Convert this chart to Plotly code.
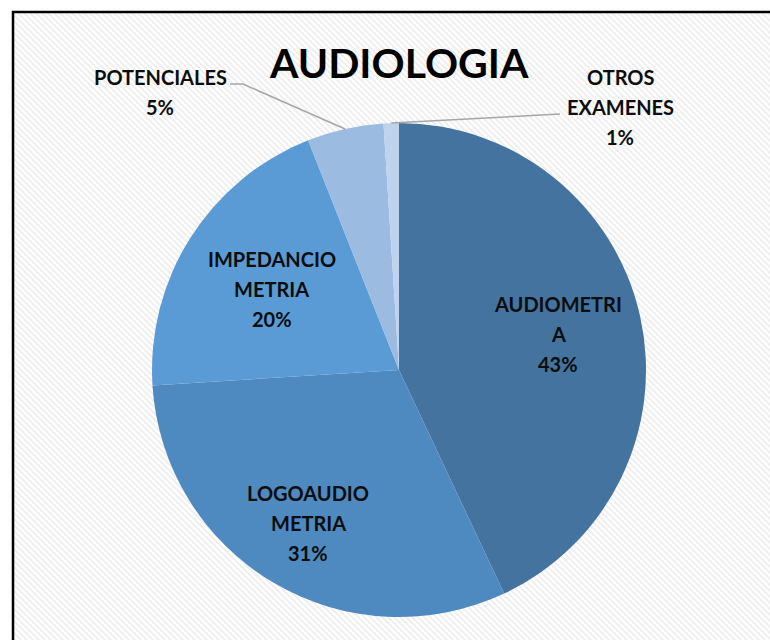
import math
import base64
import plotly.graph_objects as go

# datos del grafico
examenes = ['AUDIOMETRIA', 'LOGOAUDIOMETRIA', 'IMPEDANCIOMETRIA', 'POTENCIALES', 'OTROS EXAMENES']
porcentajes = [43, 31, 20, 5, 1]
etiquetas = [['AUDIOMETRI', 'A'], ['LOGOAUDIO', 'METRIA'], ['IMPEDANCIO', 'METRIA'],
             ['POTENCIALES'], ['OTROS', 'EXAMENES']]
colores = ['#44739f', '#4e89bf', '#5b9bd5', '#9bbbe0', '#bfd3ed']

W, H = 770, 640
cx, cy, R = 399, 370, 247
fuente = 'Lato'


def px(x):
    return x / W


def py(y):
    return 1 - y / H


# fondo rayado
rayas = ''.join(
    '<line x1="%d" y1="-10" x2="%d" y2="%d" stroke="#efefef" stroke-width="2"/>' % (i, i + 800, 790)
    for i in range(-900, 800, 6))
svg = '<svg xmlns="http://www.w3.org/2000/svg" width="760" height="630">' \
      '<rect width="760" height="630" fill="#ffffff"/>' + rayas + '</svg>'
fondo = 'data:image/svg+xml;base64,' + base64.b64encode(svg.encode()).decode()

fig = go.Figure(go.Pie(
    labels=examenes,
    values=porcentajes,
    sort=False,
    direction='clockwise',
    rotation=0,
    marker=dict(colors=colores, line=dict(width=0)),
    textinfo='none',
    hoverinfo='label+percent',
    showlegend=False,
    domain=dict(x=[px(cx - R), px(cx + R)], y=[py(cy + R), py(cy - R)]),
))

total = sum(porcentajes)
angulos = []
acum = 0
for v in porcentajes:
    angulos.append((acum + v / 2) / total * 2 * math.pi)
    acum += v


def punto(ang, k):
    return cx + R * k * math.sin(ang), cy - R * k * math.cos(ang)


anots = []
shapes = []


def texto(x, y, lineas, size=20):
    n = len(lineas)
    for i, t in enumerate(lineas):
        anots.append(dict(x=px(x), y=py(y + (i - (n - 1) / 2) * 30), xref='paper', yref='paper',
                          xanchor='center', yanchor='middle',
                          text='<b>%s</b>' % t, showarrow=False,
                          font=dict(family=fuente, size=size, color='#0d0d0d')))


# etiquetas interiores
radios = [0.66, 0.72, 0.61]
for i in range(3):
    x, y = punto(angulos[i], radios[i])
    texto(x, y, etiquetas[i] + ['%d%%' % porcentajes[i]])

# etiquetas exteriores con lineas guia
x3, y3 = punto(angulos[3], 1.0)
texto(160, 92, etiquetas[3] + ['%d%%' % porcentajes[3]], size=20)
shapes.append(dict(type='path', xref='paper', yref='paper',
                   path='M %f %f L %f %f L %f %f' % (px(x3), py(y3), px(243), py(84), px(230), py(84)),
                   line=dict(color='#a6a6a6', width=1.5)))

x4, y4 = punto(angulos[4], 1.0)
texto(620, 107, etiquetas[4] + ['%d%%' % porcentajes[4]], size=20)
shapes.append(dict(type='path', xref='paper', yref='paper',
                   path='M %f %f L %f %f' % (px(x4), py(y4), px(560), py(114)),
                   line=dict(color='#a6a6a6', width=1.5)))

# marco
shapes.append(dict(type='rect', xref='paper', yref='paper', x0=px(13), y0=py(H + 20), x1=px(W + 20), y1=py(12),
                   line=dict(color='#000000', width=2.5), layer='above'))

anots.append(dict(x=px(399), y=py(63), xref='paper', yref='paper', xanchor='center', yanchor='middle',
                  text='<b>AUDIOLOGIA</b>', showarrow=False,
                  font=dict(family=fuente, size=41, color='#000000')))

fig.update_layout(
    width=W, height=H,
    margin=dict(l=0, r=0, t=0, b=0),
    paper_bgcolor='#ffffff',
    annotations=anots,
    shapes=shapes,
    images=[dict(source=fondo, xref='paper', yref='paper', x=px(13), y=py(12), sizex=px(760), sizey=630 / H,
                 xanchor='left', yanchor='top', sizing='stretch', layer='below')],
)

fig.write_html('out.html', config={'displayModeBar': False},
               post_script="document.body.style.margin='0';")
